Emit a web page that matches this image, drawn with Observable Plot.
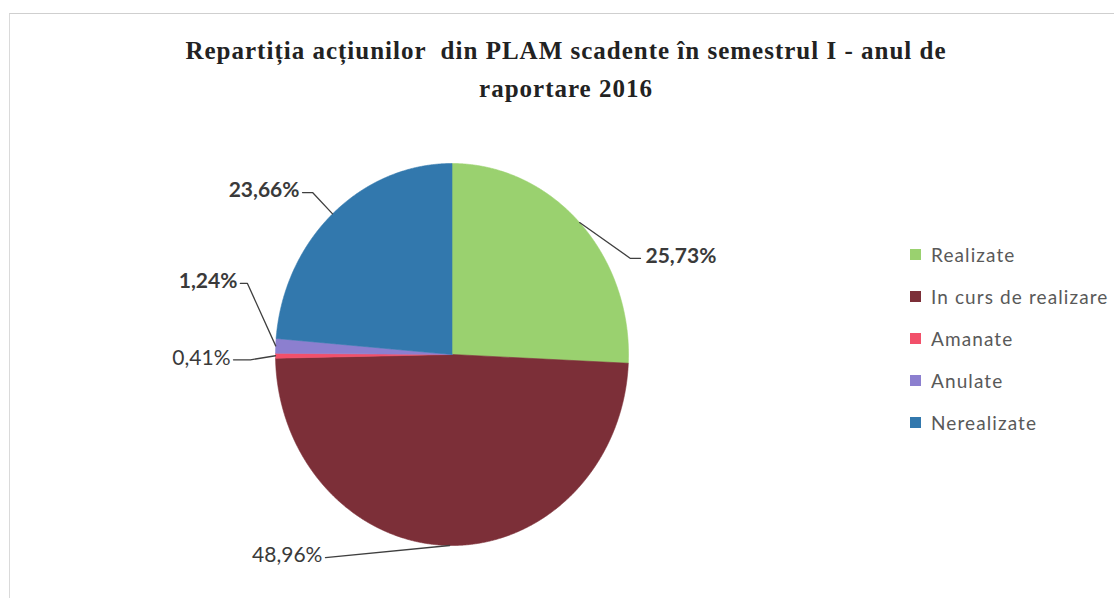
<!DOCTYPE html>
<html><head><meta charset="utf-8">
<script src="https://cdn.jsdelivr.net/npm/d3@7"></script>
<script src="https://cdn.jsdelivr.net/npm/@observablehq/plot@0.6"></script>
<style>
body{margin:0;background:#fff;}
#wrap{position:relative;width:1114px;height:598px;overflow:hidden;background:#fff;}
#frame{position:absolute;left:9px;top:13px;width:1120px;height:600px;border-top:1px solid #cfcfcf;border-left:1px solid #dadada;pointer-events:none;}
#title{position:absolute;left:0;width:1132px;top:32px;text-align:center;font-family:"Liberation Serif",serif;font-weight:bold;font-size:25px;letter-spacing:1px;color:#222;line-height:38px;white-space:pre;}
#chart{position:absolute;left:0;top:0;}
#legend{position:absolute;left:910px;top:233px;}
.lg-swatches{font-family:Lato,sans-serif !important;font-size:19px !important;color:#595959 !important;margin:0 !important;}
.lg-swatch{height:42px !important;padding-bottom:0 !important;letter-spacing:1.1px;}
.lg-swatch > svg{margin-right:10px !important;}
</style></head>
<body>
<div id="wrap">
  <div id="frame"></div>
  <div id="chart"></div>
  <div id="title">Repartiția acțiunilor  din PLAM scadente în semestrul I - anul de
raportare 2016</div>
  <div id="legend"></div>
</div>
<script>
// ---- data ----
const categories = ["Realizate", "In curs de realizare", "Amanate", "Anulate", "Nerealizate"];
const values = [25.73, 48.96, 0.41, 1.24, 23.66];
const valueLabels = ["25,73%", "48,96%", "0,41%", "1,24%", "23,66%"];
const colors = ["#9ad16f", "#7c2f38", "#f2506a", "#8c7fcf", "#3278ad"];

// ---- layout of the data labels (elbow point in scale units, tail length, side, weight) ----
const labelLayout = [
  {elbow: [1.011, 0.503], tail: 0.057, side: 1, bold: true},
  {elbow: [-0.717, -1.063], tail: 0, side: -1, bold: false},
  {elbow: [-1.142, -0.028], tail: 0.096, side: -1, bold: false},
  {elbow: [-1.159, 0.372], tail: 0.040, side: -1, bold: true},
  {elbow: [-0.790, 0.848], tail: 0.057, side: -1, bold: true}
];

const total = d3.sum(values);
const rad = Math.PI / 180;
let acc = 0;
const slices = values.map((v, i) => {
  const a0 = acc / total * 360;
  acc += v;
  const a1 = acc / total * 360;
  return {name: categories[i], a0, a1, mid: (a0 + a1) / 2};
});

// slice polygons (angle clockwise from 12 o'clock)
const slicePts = [];
for (const s of slices) {
  slicePts.push({name: s.name, u: 0, v: 0});
  const n = Math.max(2, Math.ceil((s.a1 - s.a0) / 0.25));
  for (let k = 0; k <= n; k++) {
    const a = (s.a0 + (s.a1 - s.a0) * k / n) * rad;
    slicePts.push({name: s.name, u: Math.sin(a), v: Math.cos(a)});
  }
  slicePts.push({name: s.name, u: 0, v: 0});
}

// leader lines and label anchors
const leaderPts = [];
const labelRows = [];
slices.forEach((s, i) => {
  const L = labelLayout[i];
  const a = s.mid * rad;
  const start = {name: s.name, u: Math.sin(a), v: Math.cos(a)};
  const elbow = {name: s.name, u: L.elbow[0], v: L.elbow[1]};
  const end = {name: s.name, u: L.elbow[0] + L.side * L.tail, v: L.elbow[1]};
  leaderPts.push(start, elbow, end);
  labelRows.push({u: end.u, v: end.v, text: valueLabels[i], side: L.side, bold: L.bold});
});

const textMark = (side, bold) => Plot.text(labelRows.filter(d => d.side === side && d.bold === bold), {
  x: "u", y: "v", text: "text",
  textAnchor: side > 0 ? "start" : "end",
  dx: side > 0 ? 5 : -3, dy: -2,
  fontFamily: "Lato, sans-serif", fontSize: 21, fontWeight: bold ? "bold" : "normal",
  fill: "#3a3a3a"
});

const chart = Plot.plot({
  width: 1114, height: 598,
  margin: 0,
  x: {domain: [-1, 1], range: [275, 628], axis: null},
  y: {domain: [-1, 1], range: [545, 163], axis: null},
  color: {domain: categories, range: colors},
  style: {background: "transparent", overflow: "visible"},
  marks: [
    Plot.line(slicePts, {x: "u", y: "v", z: "name", fill: "name", stroke: "name", strokeWidth: 0.6, curve: "linear"}),
    Plot.line(leaderPts, {x: "u", y: "v", z: "name", stroke: "#3f3f3f", strokeWidth: 1.3, curve: "linear"}),
    textMark(1, true),
    textMark(-1, true),
    textMark(-1, false)
  ]
});
document.getElementById("chart").appendChild(chart);

const legend = chart.legend("color", {legend: "swatches", columns: 1, swatchSize: 11, className: "lg"});
document.getElementById("legend").appendChild(legend);
</script>
</body></html>
